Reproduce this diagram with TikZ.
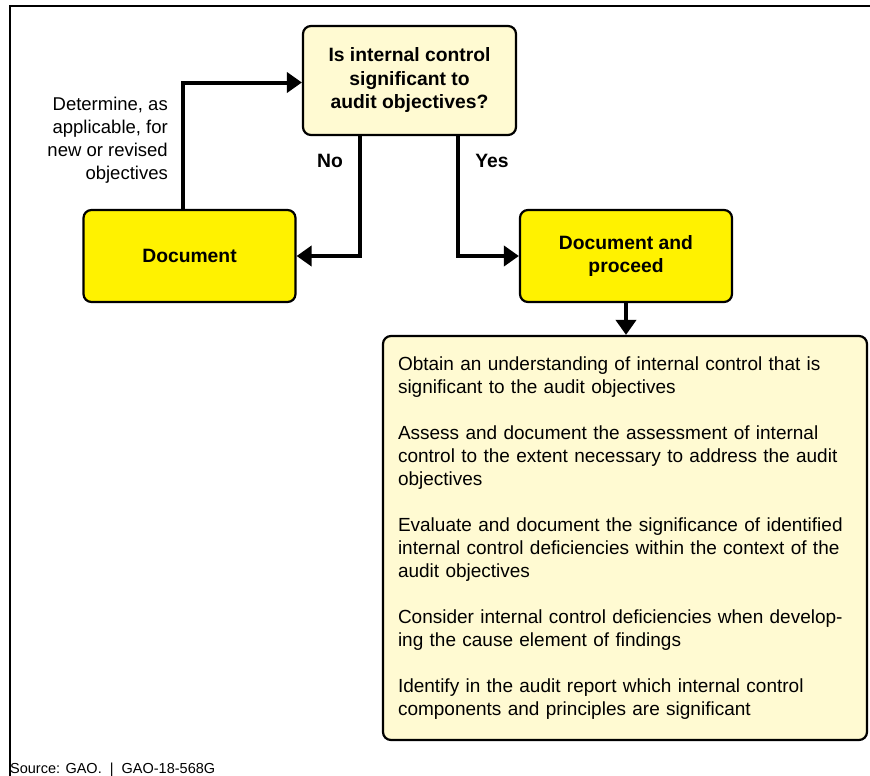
\documentclass[tikz,border=0pt]{standalone}
\usepackage{fontspec}
\setmainfont{Liberation Sans}
\usetikzlibrary{arrows.meta}
\definecolor{docyellow}{RGB}{255,242,0}
\definecolor{paleyellow}{RGB}{255,250,210}
\tikzset{
    x=1pt, y=-1pt, % picture measured in pixels of the original, y downwards
    }

\begin{document}
\begin{tikzpicture}[
box/.style={rectangle, rounded corners=8pt, draw=black, line width=2.2pt, align=center, font=\fontsize{19.3}{23.5}\selectfont\bfseries},
askbox/.style={box, fill=paleyellow, minimum width=213pt, minimum height=109pt},
actbox/.style={box, fill=docyellow, minimum width=212pt, minimum height=92pt},
stepsbox/.style={rectangle, rounded corners=8pt, draw=black, line width=2.2pt, fill=paleyellow, minimum width=484pt, minimum height=404pt, text width=454pt, inner xsep=15pt, align=left, font=\fontsize{19}{23}\selectfont},
flow/.style={line width=4pt, -{Triangle[length=15pt,width=20pt]}},
answer/.style={font=\fontsize{19.3}{23}\selectfont\bfseries},
]
\useasboundingbox (0,0) rectangle (870,776);
\draw[line width=1.6pt] (10,776) -- (10,6) -- (870,6);

\node[askbox] (question) at (409.5,80.5) {Is internal control\\significant to\\audit objectives?};
\node[actbox] (document) at (189.5,256) {Document};
\node[actbox] (proceed) at (626,256) {Document and\\proceed};
\node[stepsbox] (steps) at (625,538) {Obtain an understanding of internal control that is\\significant to the audit objectives\\[23pt]
Assess and document the assessment of internal\\control to the extent necessary to address the audit\\objectives\\[23pt]
Evaluate and document the significance of identified\\internal control deficiencies within the context of the\\audit objectives\\[23pt]
Consider internal control deficiencies when develop-\\ing the cause element of findings\\[23pt]
Identify in the audit report which internal control\\components and principles are significant};

\node[align=right, anchor=east, inner sep=0pt, font=\fontsize{18.5}{23}\selectfont] (revisit) at (168,140) {Determine, as\\applicable, for\\new or revised\\objectives};
\node[answer] (no) at (330,161) {No};
\node[answer] (yes) at (492,161) {Yes};
\node[anchor=base west, inner sep=0pt, font=\fontsize{14.5}{17}\selectfont] (source) at (10,773) {Source: GAO.\ \ |\ \ GAO-18-568G};

\draw[flow] ([xshift=-7pt]document.north) |- ([yshift=-2pt]question.west);
\draw[flow] ([xshift=-49.5pt]question.south) |- (document.east);
\draw[flow] ([xshift=48.5pt]question.south) |- (proceed.west);
\draw[flow] (proceed.south) -- (proceed.south |- steps.north);
\end{tikzpicture}
\end{document}
